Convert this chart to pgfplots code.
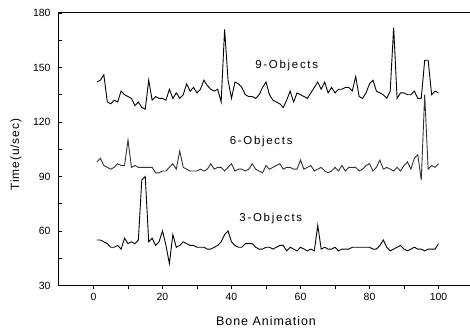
\documentclass[border=0pt]{standalone}
\usepackage{fontspec}
\setmainfont{Liberation Sans}
\usepackage{pgfplots}
\pgfplotsset{compat=1.18}
\begin{document}
\begin{tikzpicture}
\begin{axis}[name=ax, scale only axis, width=414bp, height=272.4bp,
  xmin=-10, xmax=110, ymin=30, ymax=180,
  xtick={0,20,...,100}, minor xtick={10,30,50,70,90},
  ytick={30,60,...,180}, minor ytick={45,75,105,135,165},
  xtick pos=bottom, ytick pos=left,
  tick align=inside, major tick length=3.5bp, minor tick length=3.5bp,
  x tick style={yshift=-3.5bp},
  tick style={black, line width=0.8bp},
  axis line style={line width=1bp},
  /pgf/number format/assume math mode=true,
  ticklabel style={font=\fontsize{10.5}{12}\selectfont},
  xticklabel style={yshift=-4bp},
  yticklabel style={xshift=-5bp},
  xlabel={Bone Animation}, ylabel={Time(u/sec)},
  xlabel style={at={(axis description cs:0.5,-0.131)}, anchor=center, font=\fontsize{12.5}{14}\selectfont\addfontfeature{LetterSpace=8}},
  ylabel style={at={(axis description cs:-0.104,0.48)}, anchor=center, font=\fontsize{12}{14}\selectfont\addfontfeature{LetterSpace=8}},
  clip=false]
\addplot[black, line width=0.9bp, mark=none] coordinates {(1,142)(2,143)(3,146)(4,131)(5,130)(6,132)(7,131)(8,137)(9,135)(10,134)(11,133)(12,129)(13,131)(14,128)(15,127)(16,143)(17,132)(18,134)(19,133)(20,133)(21,132)(22,138)(23,133)(24,136)(25,133)(26,135)(27,141)(28,137)(29,139)(30,136)(31,138)(32,143)(33,140)(34,138)(35,137)(36,138)(37,131)(38,171)(39,143)(40,133)(41,142)(42,141)(43,139)(44,135)(45,134)(46,134)(47,133)(48,135)(49,139)(50,142)(51,135)(52,132)(53,131)(54,130)(55,128)(56,132)(57,137)(58,131)(59,136)(60,135)(61,134)(62,133)(63,136)(64,139)(65,142)(66,138)(67,142)(68,136)(69,139)(70,136)(71,138)(72,138)(73,139)(74,139)(75,137)(76,145)(77,134)(78,133)(79,136)(80,141)(81,143)(82,137)(83,136)(84,135)(85,133)(86,137)(87,172)(88,133)(89,136)(90,136)(91,135)(92,135)(93,137)(94,133)(95,133)(96,154)(97,154)(98,135)(99,137)(100,136)};
\addplot[black!80, line width=0.9bp, mark=none] coordinates {(1,98)(2,100)(3,96)(4,95)(5,94)(6,95)(7,97)(8,96)(9,96)(10,110)(11,95)(12,96)(13,95)(14,95)(15,95)(16,95)(17,95)(18,92)(19,92)(20,93)(21,93)(22,95)(23,97)(24,94)(25,104)(26,95)(27,94)(28,93)(29,93)(30,93)(31,94)(32,93)(33,94)(34,97)(35,94)(36,95)(37,95)(38,93)(39,95)(40,97)(41,93)(42,94)(43,94)(44,93)(45,94)(46,97)(47,94)(48,93)(49,92)(50,96)(51,94)(52,95)(53,96)(54,97)(55,94)(56,95)(57,95)(58,94)(59,94)(60,99)(61,94)(62,95)(63,96)(64,93)(65,94)(66,95)(67,93)(68,92)(69,93)(70,95)(71,93)(72,96)(73,93)(74,95)(75,95)(76,95)(77,93)(78,94)(79,96)(80,97)(81,93)(82,95)(83,99)(84,94)(85,95)(86,94)(87,93)(88,95)(89,93)(90,96)(91,98)(92,94)(93,100)(94,102)(95,88)(96,135)(97,94)(98,96)(99,95)(100,97)};
\addplot[black, line width=0.9bp, mark=none] coordinates {(1,55)(2,55)(3,54)(4,53)(5,51)(6,51)(7,52)(8,50)(9,56)(10,53)(11,54)(12,53)(13,55)(14,88)(15,90)(16,54)(17,56)(18,52)(19,54)(20,60)(21,52)(22,42)(23,58)(24,51)(25,52)(26,54)(27,53)(28,52)(29,52)(30,51)(31,51)(32,51)(33,50)(34,50)(35,51)(36,52)(37,54)(38,58)(39,60)(40,54)(41,52)(42,51)(43,51)(44,53)(45,53)(46,53)(47,51)(48,50)(49,50)(50,51)(51,51)(52,50)(53,51)(54,52)(55,52)(56,49)(57,51)(58,50)(59,49)(60,51)(61,50)(62,49)(63,50)(64,49)(65,63)(66,50)(67,51)(68,50)(69,50)(70,51)(71,49)(72,50)(73,50)(74,50)(75,51)(76,51)(77,51)(78,51)(79,51)(80,51)(81,50)(82,50)(83,52)(84,55)(85,51)(86,49)(87,50)(88,51)(89,52)(90,50)(91,49)(92,50)(93,51)(94,50)(95,50)(96,49)(97,50)(98,50)(99,50)(100,53)};
\node[font=\fontsize{11.5}{13}\selectfont\addfontfeature{LetterSpace=15}] at (axis cs:56,151) {9-Objects};
\node[font=\fontsize{11.5}{13}\selectfont\addfontfeature{LetterSpace=15}] at (axis cs:48.6,109) {6-Objects};
\node[font=\fontsize{11.5}{13}\selectfont\addfontfeature{LetterSpace=15}] at (axis cs:51.4,66.7) {3-Objects};
\end{axis}
\pgfresetboundingbox
\path ([shift={(-59bp,-44bp)}]ax.south west) rectangle ([shift={(-3bp,13bp)}]ax.north east);
\end{tikzpicture}
\end{document}
